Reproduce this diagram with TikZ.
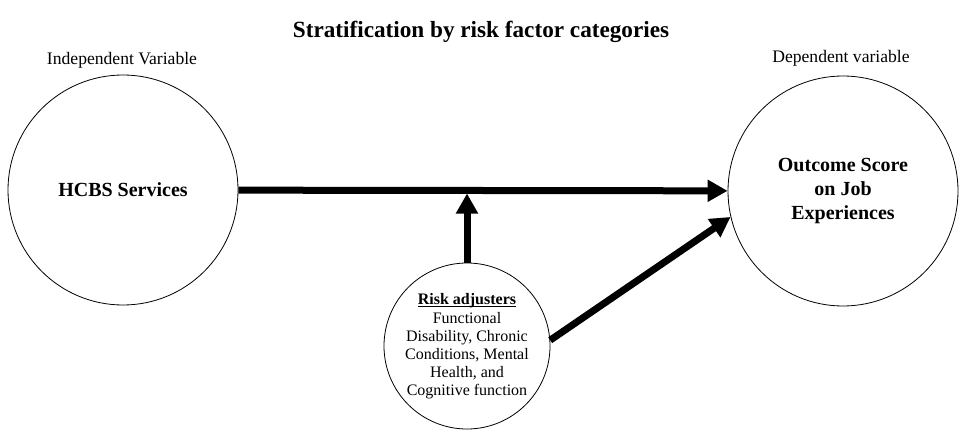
\documentclass[tikz,border=0pt]{standalone}
\usepackage{fontspec}
\setmainfont{Liberation Serif}
\usepackage{tikz}
\usetikzlibrary{positioning,arrows.meta}

\begin{document}
\begin{tikzpicture}[x=1pt,y=-1pt,
  big/.style={circle, draw=black, line width=0.8pt, minimum size=230pt, inner sep=0pt, align=center, font=\fontsize{20}{24}\selectfont\bfseries},
  small/.style={circle, draw=black, line width=0.8pt, minimum size=166pt, inner sep=0pt},
  label/.style={font=\fontsize{17.6}{20}\selectfont},
  thick arrow/.style={line width=7pt, -{Triangle[length=20pt,width=21pt]}},
]
\useasboundingbox (0,0) rectangle (967,433);

\node(T) [font=\fontsize{23.2}{27}\selectfont\bfseries] at (481,32){Stratification by risk factor categories};

\node(A) [big] at (123,190){HCBS Services};
\node(B) [big] at (843,191){Outcome Score\\on Job\\Experiences};
\node(C) [small] at (467,346){};
\node(Ct) [align=center, font=\fontsize{16}{18}\selectfont] at (C.center)
  {\underbar{\textbf{Risk adjusters}}\\[1pt]Functional\\Disability, Chronic\\Conditions, Mental\\Health, and\\Cognitive function};

\node(L1) [label] at (122,60){Independent Variable};
\node(L2) [label] at (841,58){Dependent variable};

\draw[thick arrow] (A) -- (B);
\draw[thick arrow] (C.north) -- ([yshift=-3.5pt]C.north |- A.east);
\draw[thick arrow] (C.4) -- (B.193);

\end{tikzpicture}
\end{document}
